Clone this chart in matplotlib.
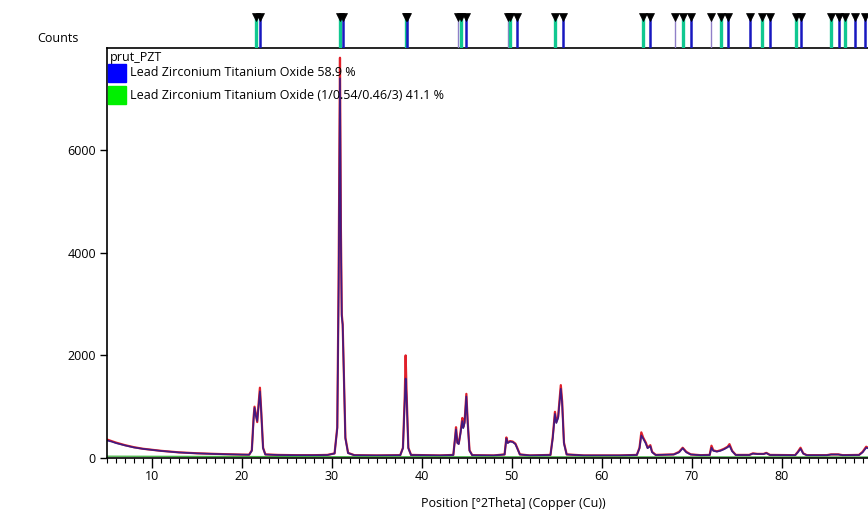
import numpy as np
import matplotlib
matplotlib.use("Agg")
import matplotlib.pyplot as plt
from matplotlib.patches import Rectangle

plt.rcParams['font.family'] = ['Open Sans', 'DejaVu Sans']
plt.rcParams['font.size'] = 9

obs_x = [5.0, 5.5, 6, 7, 8, 9, 10, 11, 12, 13, 14, 15, 16, 17, 18, 19, 20, 20.8,
         21.1, 21.3, 21.4, 21.55, 21.7, 21.85, 22.0, 22.15, 22.35, 22.6, 24, 26, 28,
         29.5, 30.3, 30.6, 30.75, 30.9, 31.0, 31.1, 31.2, 31.35, 31.5, 31.8, 32.5, 35,
         37.6, 37.9, 38.1, 38.2, 38.3, 38.5, 38.8, 42, 43.5, 43.7, 43.8, 43.95, 44.1,
         44.3, 44.5, 44.6, 44.75, 44.95, 45.1, 45.3, 45.6, 48, 49.2, 49.4, 49.55, 49.8,
         50.1, 50.4, 50.6, 50.9, 52, 54.3, 54.55, 54.8, 54.95, 55.15, 55.45, 55.6, 55.8,
         56.1, 58, 62, 63.9, 64.2, 64.4, 64.6, 64.9, 65.1, 65.4, 65.6, 66.0, 68, 68.6,
         69.0, 69.4, 69.9, 71, 72.0, 72.2, 72.4, 72.8, 73.2, 73.6, 74.0, 74.2, 74.5,
         74.9, 76.4, 76.8, 77.3, 78.0, 78.3, 78.7, 81.5, 81.8, 82.1, 82.4, 82.8, 85,
         85.5, 86.3, 86.8, 88.6, 89.0, 89.4, 89.6]
obs_y = [360, 330, 300, 250, 210, 180, 160, 140, 125, 110, 100, 92, 85, 80, 75, 70, 66, 64,
         150, 800, 1000, 850, 700, 1050, 1370, 900, 200, 70, 60, 55, 55,
         60, 90, 600, 3500, 7800, 4500, 2800, 2600, 1500, 400, 100, 55, 50,
         55, 200, 1200, 2000, 1300, 200, 60, 50, 60, 400, 600, 300, 280,
         500, 780, 600, 700, 1250, 700, 150, 55, 50, 70, 400, 300, 330,
         320, 280, 200, 70, 50, 60, 400, 900, 700, 800, 1420, 1100, 300,
         70, 50, 50, 60, 200, 500, 400, 300, 200, 250, 120, 60, 70, 120,
         200, 120, 70, 55, 60, 240, 150, 130, 150, 180, 220, 270, 140,
         60, 60, 90, 80, 80, 100, 60, 55, 120, 200, 90, 55, 55,
         70, 70, 55, 60, 120, 220, 200]
# calculated profile (same positions, slightly lower at the sharp peaks)
calc_y = [340, 320, 290, 245, 205, 178, 158, 138, 123, 108, 98, 90, 84, 78, 73, 69, 65, 63,
          140, 750, 980, 820, 720, 1000, 1300, 880, 190, 68, 58, 54, 54,
          58, 88, 580, 3300, 7400, 4300, 2750, 2600, 1450, 380, 95, 54, 50,
          54, 190, 1100, 1550, 1200, 190, 58, 50, 58, 380, 560, 290, 270,
          480, 720, 580, 680, 1200, 680, 140, 54, 50, 68, 380, 290, 320,
          310, 270, 190, 68, 50, 58, 380, 860, 680, 780, 1350, 1050, 280,
          68, 50, 50, 58, 190, 440, 380, 280, 190, 230, 110, 58, 68, 110,
          190, 110, 68, 54, 58, 200, 140, 125, 140, 170, 210, 240, 130,
          58, 58, 85, 78, 78, 95, 58, 54, 110, 180, 85, 54, 54,
          68, 68, 54, 58, 110, 200, 190]
bg_x = [5, 30, 60, 90]
bg_y = [35, 25, 22, 20]

# reference stick positions
phase1_pos = [22.05, 31.25, 38.3, 44.9, 50.6, 55.7, 65.4, 69.9, 74.0, 76.5,
              78.7, 82.1, 86.4, 88.2, 89.3]
phase2_pos = [21.6, 30.95, 38.2, 44.3, 49.8, 54.8, 64.6, 69.0, 73.3, 77.8,
              81.6, 85.5, 87.0]
minor_pos = [44.0, 68.1, 72.1, 49.6]

W, H = 868, 511
fig = plt.figure(figsize=(W / 100, H / 100), dpi=100)

x0, x1 = 107 / W, 1.0
ax = fig.add_axes([x0, 1 - 458 / H, x1 - x0, (458 - 48) / H])
ax.plot(obs_x, obs_y, color='#e0202a', lw=1.6)
ax.plot(obs_x, calc_y, color='#2e1a8c', lw=1.2, alpha=0.9)
ax.plot(bg_x, bg_y, color='#40b040', lw=0.9)
ax.set_xlim(5, 89.6)
ax.set_ylim(0, 7990)
ax.set_xticks(np.arange(10, 90, 10))
ax.set_xticks(np.arange(5, 90, 1), minor=True)
ax.set_yticks([0, 2000, 4000, 6000])
ax.tick_params(axis='x', which='major', length=7, width=1, pad=2)
ax.tick_params(axis='x', which='minor', length=3.5, width=0.8)
ax.tick_params(axis='y', length=5, width=1, pad=3)
ax.spines['right'].set_visible(False)
for s in ['left', 'bottom', 'top']:
    ax.spines[s].set_linewidth(1.2)
fig.text(513 / W, 1 - 503 / H, 'Position [°2Theta] (Copper (Cu))', ha='center', va='center')
fig.text(58 / W, 1 - 38 / H, 'Counts', ha='center', va='center')

# legend text inside the plot
ax.text(110 / W, 1 - 58 / H, 'prut_PZT', transform=fig.transFigure, va='center')
fig.patches.append(Rectangle((108 / W, 1 - 82 / H), 18 / W, 18 / H,
                             transform=fig.transFigure, color='#0000ff'))
fig.patches.append(Rectangle((108 / W, 1 - 104 / H), 18 / W, 18 / H,
                             transform=fig.transFigure, color='#00f000'))
fig.text(130 / W, 1 - 73 / H, 'Lead Zirconium Titanium Oxide 58.9 %', va='center')
fig.text(130 / W, 1 - 95 / H, 'Lead Zirconium Titanium Oxide (1/0.54/0.46/3) 41.1 %', va='center')

# stick strip on top
ax2 = fig.add_axes([x0, 1 - 48 / H, x1 - x0, 38 / H])
ax2.set_xlim(5, 89.6)
ax2.set_ylim(0, 1)
ax2.vlines(minor_pos, 0, 0.8, color='#9080c8', lw=1)
ax2.vlines(phase2_pos, 0, 0.8, color='#10c890', lw=2.4)
ax2.vlines(phase1_pos, 0, 0.8, color='#1818c0', lw=1.8)
all_pos = phase1_pos + phase2_pos + minor_pos
ax2.plot(all_pos, [0.82] * len(all_pos), 'v', color='black', ms=6, mew=0.5)
ax2.axis('off')

fig.savefig('out.png', dpi=100)
